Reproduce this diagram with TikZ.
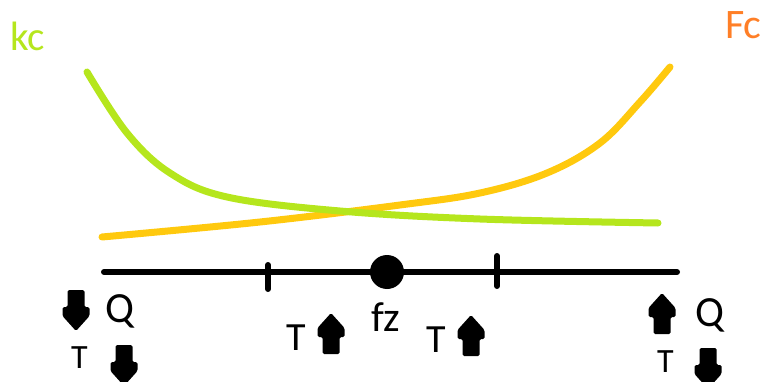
\documentclass[tikz,border=0pt]{standalone}
\usepackage{fontspec}
\setmainfont{Carlito}
\definecolor{kcgreen}{HTML}{B5E61D}
\definecolor{fcgold}{HTML}{FFC90E}
\definecolor{fcorange}{HTML}{FF7F27}
\tikzset{
  pics/uparr/.style={code={\fill[rounded corners=1.5pt] (0,0) -- (13.5,15) -- (13.5,24) -- (8.5,24) -- (8.5,41) -- (-8.5,41) -- (-8.5,24) -- (-13.5,24) -- (-13.5,15) -- cycle;}},
  pics/downarr/.style={code={\fill[rounded corners=1.5pt] (-8.5,0) -- (8.5,0) -- (8.5,17) -- (13.5,17) -- (13.5,26) -- (0,41) -- (-13.5,26) -- (-13.5,17) -- (-8.5,17) -- cycle;}}
}
\begin{document}
\begin{tikzpicture}[x=1pt,y=-1pt,
  curve/.style={line width=7pt,line cap=round},
  axisline/.style={line width=6pt,line cap=round},
  lbl/.style={anchor=base west,inner sep=0pt,outer sep=0pt}]
\useasboundingbox (0,0) rectangle (765,382);
% curves
\draw[curve,fcgold] plot[smooth,tension=0.6] coordinates {(102,237) (260,222) (400,205) (480,193) (547,173) (600,143) (640,102) (670,67)};
\draw[curve,kcgreen] plot[smooth,tension=0.6] coordinates {(87,72) (127,133) (170,173) (227,197) (340,211) (480,219) (658,223)};
% axis
\coordinate (axL) at (104,272);
\coordinate (axR) at (677,272);
\coordinate (t1a) at (268,265);
\coordinate (t1b) at (268,289);
\coordinate (t2a) at (497,256);
\coordinate (t2b) at (497,286);
\draw[axisline] (axL) -- (axR);
\draw[axisline] (t1a) -- (t1b);
\draw[axisline] (t2a) -- (t2b);
\node[circle,fill=black,minimum size=34pt,inner sep=0pt] (dot) at (387,272) {};
% labels
\node[lbl,text=kcgreen,font=\fontsize{41}{44}\selectfont] (kc) at (10,51) {kc};
\node[lbl,text=fcorange,font=\fontsize{42}{46}\selectfont] (Fc) at (725,39) {Fc};
\node[lbl,font=\fontsize{43}{46}\selectfont] (Q1) at (105,322) {Q};
\node[lbl,font=\fontsize{43}{46}\selectfont] (Q2) at (695,326) {Q};
\node[lbl,font=\fontsize{34}{38}\selectfont] (T1) at (71,368) {T};
\node[lbl,font=\fontsize{34}{38}\selectfont] (T4) at (657,372) {T};
\node[lbl,font=\fontsize{40}{44}\selectfont] (T2) at (286,350) {T};
\node[lbl,font=\fontsize{40}{44}\selectfont] (T3) at (426,352) {T};
\node[lbl,font=\fontsize{42}{46}\selectfont] (fz) at (371,331) {fz};
% arrows
\pic at (76,290) {downarr};
\pic at (124,345) {downarr};
\pic at (708,348) {downarr};
\pic at (331,313) {uparr};
\pic at (471,315) {uparr};
\pic at (662,293) {uparr};
\end{tikzpicture}
\end{document}
